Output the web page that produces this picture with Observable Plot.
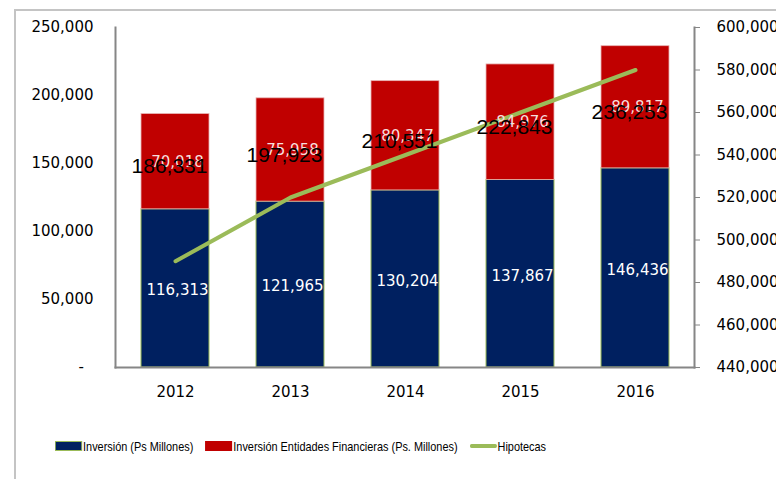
<!DOCTYPE html>
<html><head><meta charset="utf-8">
<script src="https://cdn.jsdelivr.net/npm/d3@7"></script>
<script src="https://cdn.jsdelivr.net/npm/@observablehq/plot@0.6"></script>
<style>
body{margin:0;background:#fff;overflow:hidden;width:776px;height:479px;position:relative;font-family:"DejaVu Sans",sans-serif;}
#frame{position:absolute;left:14px;top:9px;width:820px;height:520px;border:2px solid #c4c4c4;box-sizing:border-box;}
#chart{position:absolute;left:0;top:0;}
#legend{position:absolute;left:55px;top:438px;height:16px;display:flex;align-items:center;font-family:"Liberation Sans",Arial,sans-serif;font-size:13.3px;color:#000;white-space:nowrap;transform:scaleX(0.82);transform-origin:0 50%;}
.sw{display:inline-block;width:33px;height:10px;box-sizing:border-box;margin-right:1.2px;}
.item{display:flex;align-items:center;margin-right:14.6px;}
</style></head>
<body>
<div id="frame"></div>
<div id="chart"></div>
<div id="legend"></div>
<script>
const years = ["2012","2013","2014","2015","2016"];
const inversion = [116313,121965,130204,137867,146436];
const entidades = [70018,75958,80347,84976,89817];
const totals = [186331,197923,210551,222843,236253];
const hipotecas = [490000,520000,540000,560000,580000];
const leftTicks = [0,50000,100000,150000,200000,250000];
const rightTicks = [440000,460000,480000,500000,520000,540000,560000,580000,600000];
const seriesNames = ["Inversión (Ps Millones)","Inversión Entidades Financieras (Ps. Millones)","Hipotecas"];
const colors = {inv:"#002060", ent:"#C00000", hip:"#9BBB59"};

const fmt = d3.format(",");
const toLeft = d3.scaleLinear([440000,600000],[0,250000]);
const rows = years.map((year,i)=>({year, inv:inversion[i], ent:entidades[i], total:totals[i], hip:hipotecas[i]}));

const chart = Plot.plot({
  width:776, height:420,
  marginLeft:115, marginRight:82, marginTop:27, marginBottom:53,
  x:{type:"band", domain:years, paddingInner:0.413, paddingOuter:0.207, axis:null},
  y:{domain:[0,250000], axis:null},
  style:{fontFamily:"DejaVu Sans", fontSize:"15px", color:"#000", background:"transparent", overflow:"visible"},
  marks:[
    Plot.barY(rows,{x:"year", y1:0, y2:"inv", fill:colors.inv, stroke:colors.hip, strokeWidth:1}),
    Plot.barY(rows,{x:"year", y1:"inv", y2:d=>d.inv+d.ent, fill:colors.ent, stroke:"#e8b4b4", strokeWidth:0.8}),
    Plot.frame({anchor:"left", stroke:"#868686", strokeWidth:2}),
    Plot.frame({anchor:"right", stroke:"#868686", strokeWidth:2}),
    Plot.frame({anchor:"bottom", stroke:"#868686", strokeWidth:2}),
    Plot.axisY(leftTicks,{anchor:"left", tickSize:0, tickPadding:22, label:null,
      tickFormat:d=>d===0 ? "-\u00a0\u00a0" : fmt(d)}),
    Plot.axisY(rightTicks.map(v=>toLeft(v)),{anchor:"right", tickSize:5, tickPadding:17, label:null,
      stroke:"#868686", fill:"#000", tickFormat:d=>fmt(Math.round(toLeft.invert(d)))}),
    Plot.axisX({anchor:"bottom", tickSize:0, tickPadding:19, label:null}),
    Plot.line(rows,{x:"year", y:d=>toLeft(d.hip), stroke:colors.hip, strokeWidth:4, strokeLinecap:"round"}),
    Plot.text(rows,{x:"year", y:d=>d.inv/2, text:d=>fmt(d.inv), fill:"#fff", dx:2, dy:2}),
    Plot.text(rows,{x:"year", y:d=>d.inv+d.ent/2, text:d=>fmt(d.ent), fill:"#f6dede", dx:2}),
    Plot.text(rows,{x:"year", y:d=>d.inv+d.ent/2, text:d=>fmt(d.total), fill:"#000",
      fontFamily:"Liberation Sans", fontSize:21, dx:-6, dy:5})
  ]
});
document.getElementById("chart").appendChild(chart);

const legend = document.getElementById("legend");
const swStyles = [
  `background:${colors.inv};border:1px solid ${colors.hip};`,
  `background:${colors.ent};`,
  `height:4px;background:${colors.hip};border-radius:2px;`
];
seriesNames.forEach((name,i)=>{
  const item = document.createElement("span");
  item.className = "item";
  item.innerHTML = `<span class="sw" style="${swStyles[i]}"></span><span>${name}</span>`;
  legend.appendChild(item);
});
</script>
</body></html>
